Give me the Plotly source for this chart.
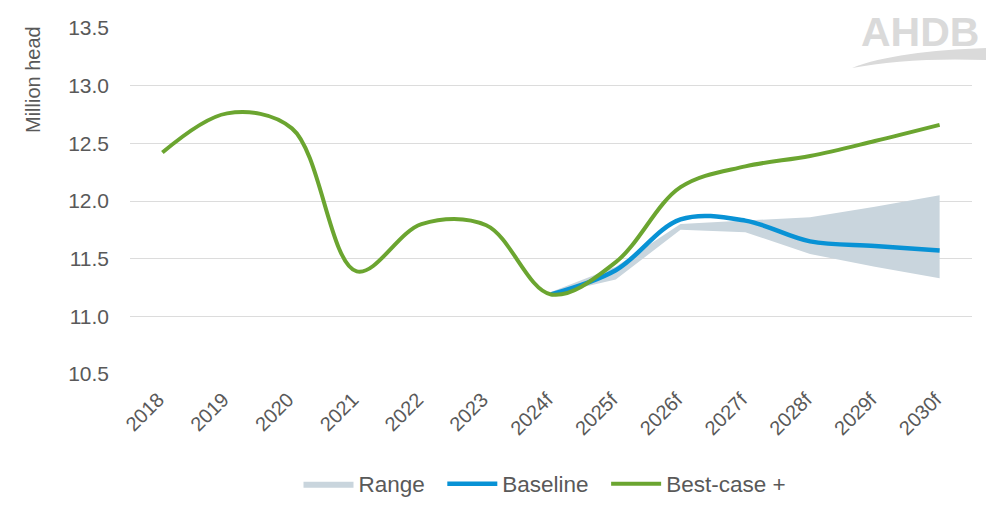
import plotly.graph_objects as go

categories = ['2018', '2019', '2020', '2021', '2022', '2023', '2024f',
              '2025f', '2026f', '2027f', '2028f', '2029f', '2030f']
best_case = [12.42, 12.76, 12.63, 11.39, 11.80, 11.79, 11.19,
             11.47, 12.12, 12.30, 12.39, 12.52, 12.66]
baseline = [None, None, None, None, None, None, 11.19,
            11.40, 11.84, 11.83, 11.65, 11.61, 11.57]
range_low = [None, None, None, None, None, None, 11.19,
             11.32, 11.75, 11.73, 11.54, 11.43, 11.33]
range_high = [None, None, None, None, None, None, 11.21,
              11.43, 11.80, 11.83, 11.86, 11.95, 12.05]
y_ticks = [10.5, 11.0, 11.5, 12.0, 12.5, 13.0, 13.5]

TXT = '#595959'
FONT = 'Liberation Sans, Arial, sans-serif'
RANGE_C = '#c9d5dd'
BLUE = '#0892d5'
GREEN = '#6ba530'
NB = '\u00a0'

fig = go.Figure()
fig.add_trace(go.Scatter(x=categories, y=range_low, mode='lines',
                         line=dict(width=0, color=RANGE_C),
                         showlegend=False, hoverinfo='skip'))
fig.add_trace(go.Scatter(x=categories, y=range_high, mode='lines',
                         line=dict(width=0, color=RANGE_C),
                         fill='tonexty', fillcolor=RANGE_C, name='Range' + NB * 2))
fig.add_trace(go.Scatter(x=categories, y=baseline, mode='lines',
                         line=dict(width=4.5, color=BLUE, shape='spline', smoothing=1),
                         name='Baseline' + NB * 2))
fig.add_trace(go.Scatter(x=categories, y=best_case, mode='lines',
                         line=dict(width=4, color=GREEN, shape='spline', smoothing=1),
                         name='Best-case +'))

# page body has an 8px margin; work in reference pixel coords and shift
OFF = 8
W, H = 1000 - OFF, 519 - OFF
L, T = 130 - OFF, 28 - OFF
R = W - (972 - OFF)
B = H - (374 - OFF)
pw, ph = W - L - R, H - T - B

def px(x):
    return (x - OFF - L) / pw

def py(y):
    return (H - B - (y - OFF)) / ph

fig.update_layout(
    width=W, height=H,
    margin=dict(l=L, r=R, t=T, b=B, autoexpand=False),
    plot_bgcolor='white', paper_bgcolor='white',
    font=dict(family=FONT, color=TXT, size=21),
    xaxis=dict(type='category', range=[-0.5, 12.5], tickangle=-45,
               showgrid=False, showline=False, zeroline=False,
               tickfont=dict(size=20, color=TXT), ticks='',
               ticklabelstandoff=9, ticklabelshift=-4),
    yaxis=dict(range=[10.5, 13.5], tickvals=y_ticks,
               ticktext=[f'{v:.1f}' for v in y_ticks],
               showgrid=True, gridcolor='#dcdcdc', gridwidth=1.3,
               zeroline=False, showline=False, ticks='',
               ticklabelstandoff=20, tickfont=dict(size=21, color=TXT)),
    legend=dict(orientation='h', x=px(545), xanchor='center', y=py(484), yanchor='middle',
                font=dict(size=22.5, color=TXT), itemwidth=50,
                traceorder='normal'),
    showlegend=True,
)

# y axis title
fig.add_annotation(x=px(33), y=py(80), xref='paper', yref='paper',
                   text='Million head', textangle=-90, showarrow=False,
                   font=dict(size=20, color=TXT), xanchor='center', yanchor='middle')

# AHDB logo (decoration)
fig.add_shape(type='rect', xref='paper', yref='paper',
              x0=px(843), x1=px(1000), y0=py(76), y1=py(8),
              fillcolor='white', line=dict(width=0), layer='above')
fig.add_annotation(x=px(920), y=py(8), xref='paper', yref='paper',
                   text='<b>AHDB</b>', showarrow=False,
                   font=dict(size=41, color='#dadada', family=FONT),
                   xanchor='center', yanchor='top', borderpad=0)

def P(x, y):
    return f'{px(x):.4f},{py(y):.4f}'

path = ('M ' + P(852, 68) +
        ' C ' + P(882, 56) + ' ' + P(930, 50) + ' ' + P(986, 48) +
        ' L ' + P(986, 60) +
        ' C ' + P(935, 58) + ' ' + P(887, 61) + ' ' + P(852, 68) + ' Z')
fig.add_shape(type='path', xref='paper', yref='paper', path=path,
              fillcolor='#dadada', line=dict(width=0), layer='above')

fig.write_html('out.html')
